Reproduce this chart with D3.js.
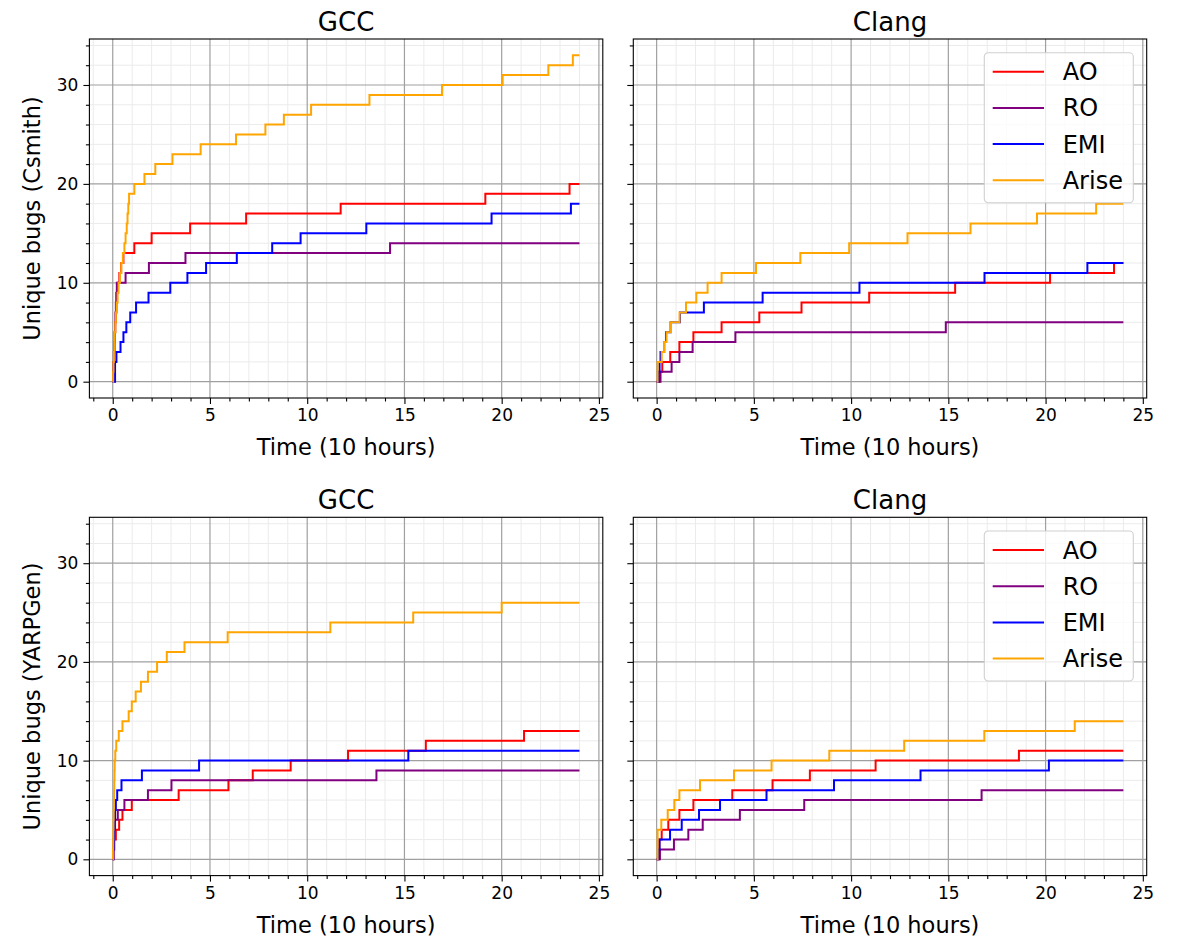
<!DOCTYPE html>
<html>
<head>
<meta charset="utf-8">
<script src="https://cdn.jsdelivr.net/npm/d3@7"></script>
<style>
body { margin: 0; background: #fff; }
text { font-family: "DejaVu Sans", sans-serif; fill: #000; }
</style>
</head>
<body>
<div id="chart"></div>
<script>
// cumulative unique bugs over time, [time (x10h), count] step points
const methods = ["AO", "RO", "EMI", "Arise"];
const colors = ["red", "purple", "blue", "orange"];
const compilers = ["GCC", "Clang"];
const generators = ["Csmith", "YARPGen"];
const xTicks = [0, 5, 10, 15, 20, 25];
const yTicks = [0, 10, 20, 30];

// Csmith / GCC
const csGccAO = [[0,0],[0.03,1],[0.05,2],[0.07,3],[0.09,4],[0.11,5],[0.13,6],[0.16,7],[0.19,8],[0.22,9],[0.26,10],[0.34,11],[0.43,12],[0.55,13],[1.11,14],[2.0,15],[3.98,16],[6.86,17],[11.72,18],[19.16,19],[23.49,20],[24,20]];
const csGccRO = [[0,0],[0.02,1],[0.04,2],[0.06,3],[0.08,4],[0.1,5],[0.12,6],[0.14,7],[0.16,8],[0.18,9],[0.21,10],[0.66,11],[1.86,12],[3.74,13],[14.26,14],[24,14]];
const csGccEMI = [[0,0],[0.12,2],[0.19,3],[0.4,4],[0.55,5],[0.7,6],[0.9,7],[1.2,8],[1.84,9],[2.96,10],[3.84,11],[4.8,12],[6.38,13],[8.2,14],[9.66,15],[13.04,16],[19.48,17],[23.56,18],[24,18]];
const csGccArise = [[0,0],[0.02,1],[0.04,2],[0.06,3],[0.08,4],[0.1,5],[0.13,6],[0.16,7],[0.2,8],[0.25,9],[0.3,10],[0.37,11],[0.44,12],[0.52,13],[0.6,14],[0.66,15],[0.72,16],[0.76,17],[0.8,18],[0.84,19],[1.11,20],[1.63,21],[2.19,22],[3.07,23],[4.52,24],[6.34,25],[7.85,26],[8.8,27],[10.2,28],[13.2,29],[16.93,30],[20.05,31],[22.4,32],[23.66,33],[24,33]];

// Csmith / Clang
const csClangAO = [[0,0],[0.14,1],[0.29,2],[0.7,3],[1.17,4],[1.89,5],[3.34,6],[5.28,7],[7.45,8],[10.93,9],[15.35,10],[20.23,11],[23.52,12],[24,12]];
const csClangRO = [[0,0],[0.2,1],[0.77,2],[1.17,3],[1.85,4],[4.05,5],[14.87,6],[24,6]];
const csClangEMI = [[0,0],[0.1,1],[0.15,2],[0.2,3],[0.39,4],[0.48,5],[0.72,6],[1.2,7],[2.43,8],[5.45,9],[10.43,10],[16.86,11],[22.15,12],[24,12]];
const csClangArise = [[0,0],[0.05,2],[0.26,3],[0.38,4],[0.51,5],[0.74,6],[1.18,7],[1.51,8],[2.04,9],[2.62,10],[3.34,11],[5.11,12],[7.39,13],[9.9,14],[12.9,15],[16.14,16],[19.56,17],[22.6,18],[24,18]];

// YARPGen / GCC
const ygGccAO = [[0,0],[0.04,1],[0.08,2],[0.16,3],[0.33,4],[0.5,5],[0.98,6],[3.39,7],[5.95,8],[7.2,9],[9.15,10],[12.1,11],[16.1,12],[21.15,13],[24,13]];
const ygGccRO = [[0,0],[0.03,1],[0.05,2],[0.08,3],[0.12,4],[0.26,5],[0.6,6],[1.81,7],[3.02,8],[13.56,9],[24,9]];
const ygGccEMI = [[0,0],[0.03,1],[0.05,2],[0.07,3],[0.09,4],[0.12,5],[0.16,6],[0.23,7],[0.45,8],[1.5,9],[4.44,10],[15.2,11],[24,11]];
const ygGccArise = [[0,0],[0.01,1],[0.02,2],[0.03,3],[0.04,4],[0.05,5],[0.06,6],[0.07,7],[0.08,8],[0.09,9],[0.1,10],[0.13,11],[0.18,12],[0.31,13],[0.5,14],[0.82,15],[0.98,16],[1.18,17],[1.45,18],[1.81,19],[2.28,20],[2.78,21],[3.69,22],[5.91,23],[11.19,24],[15.45,25],[20.0,26],[24,26]];

// YARPGen / Clang
const ygClangAO = [[0,0],[0.09,1],[0.14,2],[0.26,3],[0.6,4],[1.17,5],[1.89,6],[3.89,7],[5.96,8],[7.88,9],[11.26,10],[18.63,11],[24,11]];
const ygClangRO = [[0,0],[0.17,1],[0.89,2],[1.63,3],[2.37,4],[4.28,5],[7.59,6],[16.71,7],[24,7]];
const ygClangEMI = [[0,0],[0.1,1],[0.15,2],[0.69,3],[1.29,4],[2.18,5],[3.26,6],[5.65,7],[9.12,8],[13.57,9],[20.17,10],[24,10]];
const ygClangArise = [[0,0],[0.05,3],[0.24,4],[0.57,5],[0.91,6],[1.17,7],[2.23,8],[3.98,9],[5.91,10],[8.88,11],[12.73,12],[16.85,13],[21.5,14],[24,14]];

const panelSeries = [
    [csGccAO, csGccRO, csGccEMI, csGccArise],
    [csClangAO, csClangRO, csClangEMI, csClangArise],
    [ygGccAO, ygGccRO, ygGccEMI, ygGccArise],
    [ygClangAO, ygClangRO, ygClangEMI, ygClangArise]
];

// layout (pixel positions of the axes boxes)
const svgWidth = 1181, svgHeight = 938;
const colLeft = [89.4, 633.3];
const panelW = 513.4;
const rowTop = [39, 517.3];
const rowBottom = [398, 875.6];

const svg = d3.select("#chart").append("svg")
    .attr("width", svgWidth)
    .attr("height", svgHeight);

panelSeries.forEach(function(series, i) {
    const row = Math.floor(i / 2), col = i % 2;
    const left = colLeft[col], top = rowTop[row];
    const w = panelW, h = rowBottom[row] - rowTop[row];

    const x = d3.scaleLinear().domain([-1.2, 25.2]).range([0, w]);
    const y = d3.scaleLinear().domain([-1.65, 34.65]).range([h, 0]);

    const g = svg.append("g").attr("transform", `translate(${left},${top})`);

    // minor grid
    const xMinor = d3.range(-1, 26, 1).filter(v => v % 5 !== 0);
    const yMinor = d3.range(-0, 35, 2).filter(v => v % 10 !== 0);
    g.append("g").selectAll("line").data(xMinor).join("line")
        .attr("x1", d => x(d)).attr("x2", d => x(d))
        .attr("y1", 0).attr("y2", h)
        .attr("stroke", "#ebebeb").attr("stroke-width", 1);
    g.append("g").selectAll("line").data(yMinor).join("line")
        .attr("y1", d => y(d)).attr("y2", d => y(d))
        .attr("x1", 0).attr("x2", w)
        .attr("stroke", "#ebebeb").attr("stroke-width", 1);
    // major grid
    g.append("g").selectAll("line").data(xTicks).join("line")
        .attr("x1", d => x(d)).attr("x2", d => x(d))
        .attr("y1", 0).attr("y2", h)
        .attr("stroke", "#a0a0a0").attr("stroke-width", 1.2);
    g.append("g").selectAll("line").data(yTicks).join("line")
        .attr("y1", d => y(d)).attr("y2", d => y(d))
        .attr("x1", 0).attr("x2", w)
        .attr("stroke", "#a0a0a0").attr("stroke-width", 1.2);

    // step lines
    const line = d3.line()
        .x(d => x(d[0]))
        .y(d => y(d[1]))
        .curve(d3.curveStepAfter);
    series.forEach(function(s, k) {
        g.append("path")
            .datum(s)
            .attr("d", line)
            .attr("fill", "none")
            .attr("stroke", colors[k])
            .attr("stroke-width", 2);
    });

    // axes
    g.append("g").attr("transform", `translate(0,${h})`)
        .call(d3.axisBottom(x).tickValues(xTicks).tickSize(6).tickPadding(5).tickFormat(d3.format("d")));
    g.append("g").attr("transform", `translate(0,${h})`)
        .call(d3.axisBottom(x).tickValues(xMinor).tickSize(3.5).tickFormat(""));
    g.append("g")
        .call(d3.axisLeft(y).tickValues(yTicks).tickSize(6).tickPadding(5)
            .tickFormat(col === 0 ? d3.format("d") : ""));
    g.append("g")
        .call(d3.axisLeft(y).tickValues(yMinor).tickSize(3.5).tickFormat(""));
    g.selectAll(".domain").remove();
    g.selectAll(".tick line").attr("stroke", "#000").attr("stroke-width", 1.1);
    g.selectAll(".tick text").attr("font-size", 17).attr("font-family", "DejaVu Sans");

    // spines
    g.append("rect")
        .attr("x", 0).attr("y", 0).attr("width", w).attr("height", h)
        .attr("fill", "none").attr("stroke", "#000").attr("stroke-width", 1.1);

    // titles and labels
    g.append("text")
        .attr("x", w / 2).attr("y", -8)
        .attr("text-anchor", "middle")
        .attr("font-size", 26)
        .text(compilers[col]);
    g.append("text")
        .attr("x", w / 2).attr("y", h + 57)
        .attr("text-anchor", "middle")
        .attr("font-size", 22.5)
        .text("Time (10 hours)");
    if (col === 0) {
        g.append("text")
            .attr("transform", `translate(${-49},${h / 2}) rotate(-90)`)
            .attr("text-anchor", "middle")
            .attr("font-size", 22.5)
            .text(`Unique bugs (${generators[row]})`);
    }

    // legend on the right column
    if (col === 1) {
        const lg = g.append("g").attr("transform", `translate(${984.3 - left},${13.7})`);
        lg.append("rect")
            .attr("width", 149).attr("height", 150)
            .attr("rx", 4).attr("ry", 4)
            .attr("fill", "#fff").attr("fill-opacity", 0.8)
            .attr("stroke", "#d0d0d0").attr("stroke-width", 1.1);
        methods.forEach(function(m, k) {
            const yy = 19 + k * 36.2;
            lg.append("line")
                .attr("x1", 8.4).attr("x2", 59.7)
                .attr("y1", yy).attr("y2", yy)
                .attr("stroke", colors[k]).attr("stroke-width", 2);
            lg.append("text")
                .attr("x", 78.4).attr("y", yy + 8.5)
                .attr("font-size", 24)
                .text(m);
        });
    }
});
</script>
</body>
</html>
